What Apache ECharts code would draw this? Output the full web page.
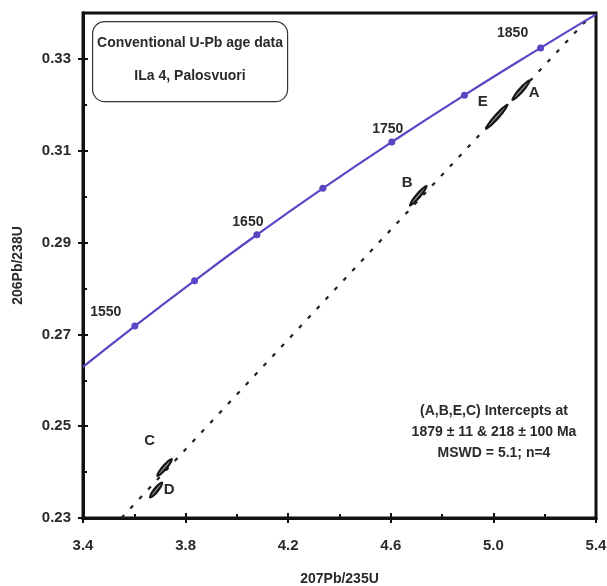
<!DOCTYPE html>
<html><head><meta charset="utf-8">
<script src="https://cdn.jsdelivr.net/npm/echarts@6/dist/echarts.min.js"></script>
<style>html,body{margin:0;padding:0;background:#fff}#c{width:607px;height:586px}</style>
</head><body><div id="c"></div>
<script>
// Concordia curve (207Pb/235U, 206Pb/238U) with age markers
var concordiaX = [3.40, 3.602, 3.835, 4.078, 4.335, 4.604, 4.887, 5.184, 5.40];
var concordiaY = [0.2629, 0.2718, 0.2817, 0.2917, 0.3018, 0.3119, 0.3221, 0.3324, 0.3397];
var markerAges = [null, 1550, 1600, 1650, 1700, 1750, 1800, 1850, null];
var labeledAges = [1550, 1650, 1750, 1850];
// Discordia (dashed) endpoints
var discordiaX = [3.55, 5.363];
var discordiaY = [0.23, 0.3384];
// Analyses: name, centre x, centre y, half-extent x, half-extent y
var ellNames = ['A', 'E', 'B', 'C', 'D'];
var ellX = [5.108, 5.013, 4.707, 3.718, 3.685];
var ellY = [0.3232, 0.3174, 0.3002, 0.2410, 0.2361];
var ellDX = [0.036, 0.045, 0.035, 0.031, 0.026];
var ellDY = [0.0023, 0.0028, 0.0023, 0.0020, 0.0018];
// Axis ticks
var xTicks = [3.4, 3.8, 4.2, 4.6, 5.0, 5.4];
var xMinor = [3.6, 4.0, 4.4, 4.8, 5.2];
var yTicks = [0.23, 0.25, 0.27, 0.29, 0.31, 0.33];
var yMinor = [0.24, 0.26, 0.28, 0.30, 0.32];
var titleLines = ['Conventional U-Pb age data', 'ILa 4, Palosvuori'];
var resultLines = ['(A,B,E,C) Intercepts at', '1879 \u00b1 11 & 218 \u00b1 100 Ma', 'MSWD = 5.1; n=4'];

var FONT = '"Liberation Sans", Arial, sans-serif';
var TXT = '#2a2a2a';
var labelOffsets = {1550: [-29, 2], 1650: [-9, 3], 1750: [-4, 3], 1850: [-28, 1]};
var letterOffsets = {A: [13, 3], E: [-14, -15], B: [-11, -13], C: [-15, -27], D: [13, 0]};

var chart = echarts.init(document.getElementById('c'));
var G = {left: 83, top: 13, width: 513, height: 505};

function xAx(extra) {
  return Object.assign({
    type: 'value', min: 3.4, max: 5.4, position: 'bottom',
    axisLine: {show: true, onZero: false, lineStyle: {color: '#111', width: 3}},
    splitLine: {show: false}, axisLabel: {show: false}, axisTick: {show: false}
  }, extra);
}
function yAx(extra) {
  return Object.assign({
    type: 'value', min: 0.23, max: 0.34, position: 'left',
    axisLine: {show: true, onZero: false, lineStyle: {color: '#111', width: 3}},
    splitLine: {show: false}, axisLabel: {show: false}, axisTick: {show: false}
  }, extra);
}

var concData = concordiaX.map(function (x, i) { return [x, concordiaY[i]]; });
var markerData = [];
concordiaX.forEach(function (x, i) {
  if (markerAges[i] !== null) {
    var age = markerAges[i];
    var item = {value: [x, concordiaY[i], age]};
    if (labeledAges.indexOf(age) >= 0) {
      item.label = {show: true, formatter: String(age), position: 'top', offset: labelOffsets[age],
        color: TXT, fontFamily: FONT, fontWeight: 'bold', fontSize: 14, textBorderWidth: 0};
    }
    markerData.push(item);
  }
});
var ellData = ellNames.map(function (n, i) { return [ellX[i], ellY[i], ellDX[i], ellDY[i], n]; });

function ellPts(c, a, b, ang) {
  var pts = [];
  for (var k = 0; k < 48; k++) {
    var t = k / 48 * Math.PI * 2;
    var ex = a * Math.cos(t), ey = b * Math.sin(t);
    pts.push([c[0] + ex * Math.cos(ang) - ey * Math.sin(ang), c[1] + ex * Math.sin(ang) + ey * Math.cos(ang)]);
  }
  return pts;
}

chart.setOption({
  animation: false,
  backgroundColor: '#fff',
  grid: {left: G.left, top: G.top, width: G.width, height: G.height, show: true, borderColor: '#111', borderWidth: 3,
    containLabel: false, outerBoundsMode: 'none'},
  xAxis: [
    xAx({
      axisLabel: {show: true, customValues: xTicks, color: TXT, fontFamily: FONT, fontWeight: 'bold', fontSize: 15, margin: 20,
        formatter: function (v) { return v.toFixed(1); }},
      axisTick: {show: true, customValues: xTicks, length: 5, lineStyle: {color: '#111', width: 2}},
      name: '207Pb/235U', nameLocation: 'middle', nameGap: 54,
      nameTextStyle: {color: TXT, fontFamily: FONT, fontWeight: 'bold', fontSize: 14}
    }),
    xAx({axisTick: {show: true, inside: true, customValues: xTicks, length: 5, lineStyle: {color: '#111', width: 2}}}),
    xAx({axisTick: {show: true, inside: true, customValues: xMinor, length: 4, lineStyle: {color: '#111', width: 2}}})
  ],
  yAxis: [
    yAx({
      axisLabel: {show: true, customValues: yTicks, color: TXT, fontFamily: FONT, fontWeight: 'bold', fontSize: 15, margin: 12,
        formatter: function (v) { return v.toFixed(2); }},
      axisTick: {show: true, customValues: yTicks, length: 5, lineStyle: {color: '#111', width: 2}},
      name: '206Pb/238U', nameLocation: 'middle', nameGap: 58, nameRotate: 90,
      nameTextStyle: {color: TXT, fontFamily: FONT, fontWeight: 'bold', fontSize: 14}
    }),
    yAx({axisTick: {show: true, inside: true, customValues: yTicks, length: 5, lineStyle: {color: '#111', width: 2}}}),
    yAx({axisTick: {show: true, inside: true, customValues: yMinor, length: 4, lineStyle: {color: '#111', width: 2}}})
  ],
  series: [
    {
      type: 'line', data: discordiaX.map(function (x, i) { return [x, discordiaY[i]]; }),
      symbol: 'none', silent: true, z: 2,
      lineStyle: {color: '#222', width: 2.2, type: [4, 9]}
    },
    {
      type: 'line', data: concData, symbol: 'none', smooth: true, silent: true, z: 3,
      lineStyle: {color: '#5a45c4', width: 2.2}
    },
    {
      type: 'scatter', data: markerData, symbol: 'circle', symbolSize: 7, z: 4,
      itemStyle: {color: '#5a45c4', opacity: 1},
      label: {show: false}
    },
    {
      type: 'custom', data: ellData, z: 5,
      renderItem: function (params, api) {
        var cx = api.value(0), cy = api.value(1), dx = api.value(2), dy = api.value(3);
        var name = ellNames[params.dataIndex];
        var p1 = api.coord([cx - dx, cy - dy]);
        var p2 = api.coord([cx + dx, cy + dy]);
        var c = api.coord([cx, cy]);
        var ux = (p2[0] - p1[0]) / 2, uy = (p2[1] - p1[1]) / 2;
        var a = Math.sqrt(ux * ux + uy * uy);
        var ang = Math.atan2(uy, ux);
        var off = letterOffsets[name];
        return {
          type: 'group',
          children: [
            {type: 'polygon', shape: {points: ellPts(c, a, 3, ang)}, style: {fill: '#151515'}},
            {type: 'polygon', shape: {points: ellPts(c, a * 0.7, 0.6, ang)}, style: {fill: '#9a9a9a'}},
            {type: 'text', x: c[0] + off[0], y: c[1] + off[1],
              style: {text: name, fill: TXT, font: 'bold 15px ' + FONT, align: 'center', verticalAlign: 'middle'}}
          ]
        };
      }
    }
  ],
  graphic: [
    {type: 'rect', left: 92, top: 21, shape: {width: 195, height: 80, r: 12},
      style: {fill: '#fff', stroke: '#333', lineWidth: 1.2}, z: 10},
    {type: 'text', x: 190, y: 43, z: 11,
      style: {text: titleLines[0], fill: TXT, font: 'bold 14px ' + FONT, align: 'center', verticalAlign: 'middle'}},
    {type: 'text', x: 190, y: 76, z: 11,
      style: {text: titleLines[1], fill: TXT, font: 'bold 14px ' + FONT, align: 'center', verticalAlign: 'middle'}},
    {type: 'text', x: 494, y: 411, z: 11,
      style: {text: resultLines[0], fill: TXT, font: 'bold 14px ' + FONT, align: 'center', verticalAlign: 'middle'}},
    {type: 'text', x: 494, y: 432, z: 11,
      style: {text: resultLines[1], fill: TXT, font: 'bold 14px ' + FONT, align: 'center', verticalAlign: 'middle'}},
    {type: 'text', x: 494, y: 453, z: 11,
      style: {text: resultLines[2], fill: TXT, font: 'bold 14px ' + FONT, align: 'center', verticalAlign: 'middle'}}
  ]
});
</script>
</body></html>
